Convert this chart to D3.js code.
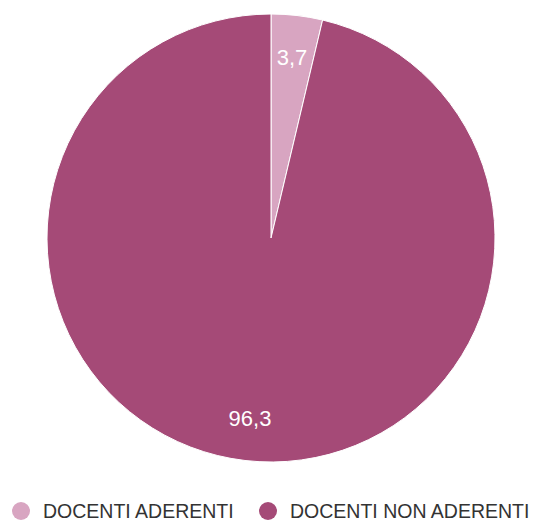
<!DOCTYPE html>
<html>
<head>
<meta charset="utf-8">
<script src="https://cdn.jsdelivr.net/npm/d3@7"></script>
<style>
  html, body { margin: 0; padding: 0; background: #fff; }
  svg { display: block; font-family: "Liberation Sans", Arial, sans-serif; }
</style>
</head>
<body>
<svg id="chart" width="536" height="522"></svg>
<script>
// Share of teachers who joined vs. did not join
const categories = ["DOCENTI ADERENTI", "DOCENTI NON ADERENTI"];
const values = [3.7, 96.3];
const colors = ["#d8a5c1", "#a54a77"];

const width = 536, height = 522;
const cx = 271, cy = 238, radius = 224;

const svg = d3.select("#chart");

const pie = d3.pie().sort(null).value(d => d.value);
const arcs = pie(categories.map((c, i) => ({ name: c, value: values[i] })));

const arc = d3.arc().innerRadius(0).outerRadius(radius);
const labelArc = d3.arc().innerRadius(radius * 0.81).outerRadius(radius * 0.81);

const color = d3.scaleOrdinal().domain(categories).range(colors);

const g = svg.append("g").attr("transform", `translate(${cx},${cy})`);

g.selectAll("path.slice")
  .data(arcs)
  .join("path")
  .attr("class", "slice")
  .attr("d", arc)
  .attr("fill", d => color(d.data.name))
  .attr("stroke", "#ffffff")
  .attr("stroke-width", 1);

g.selectAll("text.value")
  .data(arcs)
  .join("text")
  .attr("class", "value")
  .attr("transform", d => `translate(${labelArc.centroid(d)})`)
  .attr("text-anchor", "middle")
  .attr("dy", "0.35em")
  .attr("fill", "#ffffff")
  .attr("font-size", 22)
  .text(d => String(d.data.value).replace(".", ","));

// Legend
const legendX = d3.scaleOrdinal().domain(categories).range([21, 268]);
const legend = svg.append("g").attr("transform", "translate(0,511)");
const items = legend.selectAll("g.item")
  .data(categories)
  .join("g")
  .attr("class", "item")
  .attr("transform", d => `translate(${legendX(d)},0)`);

items.append("circle")
  .attr("r", 9)
  .attr("fill", d => color(d));

items.append("text")
  .attr("x", 22)
  .attr("dy", "0.35em")
  .attr("font-size", 19.5)
  .attr("fill", "#333333")
  .text(d => d);
</script>
</body>
</html>
